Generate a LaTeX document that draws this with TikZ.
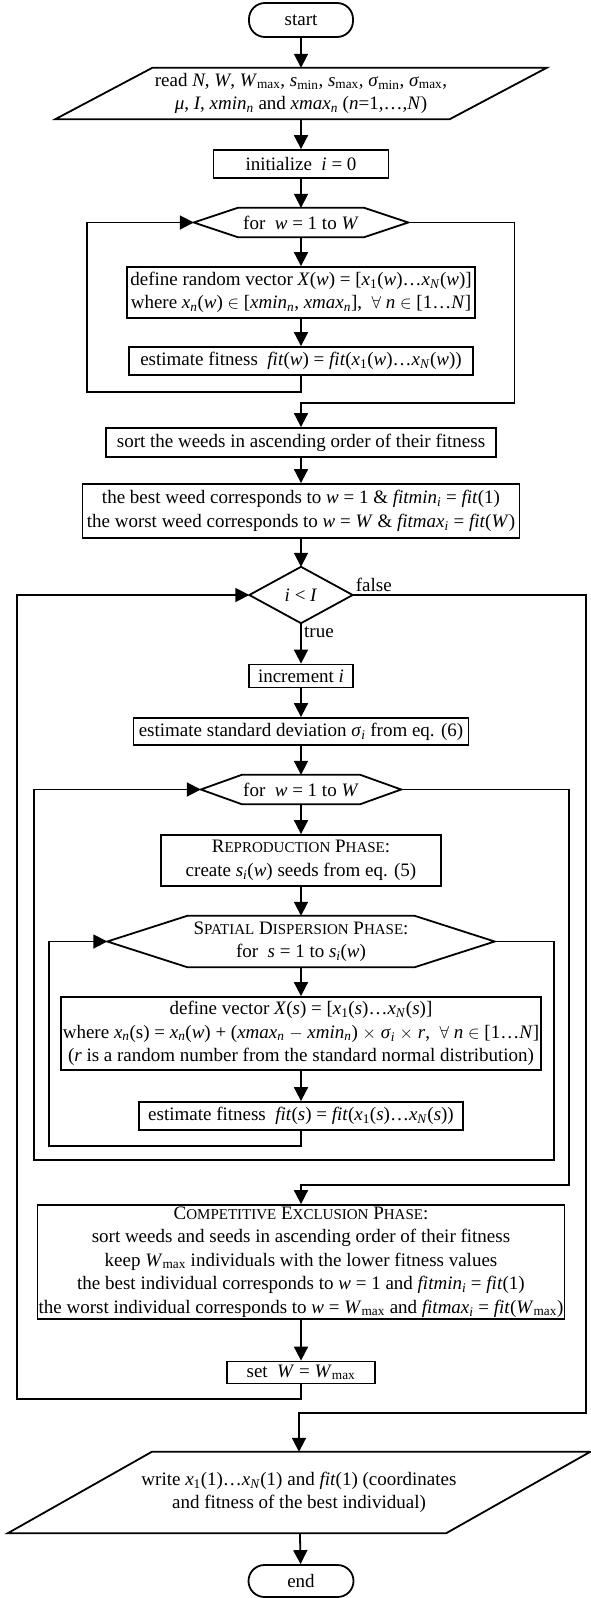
\documentclass[tikz,border=0pt]{standalone}
\usepackage{fontspec}
\setmainfont{Liberation Serif}
\usetikzlibrary{calc,arrows.meta}
\newcommand\vi[1]{\textit{#1}}
\newcommand\sbs[1]{\textsubscript{#1}}
\newcommand\fsc[2]{#1{\fontsize{15}{18}\selectfont #2}}
\def\hexframe(#1)(#2){\draw[line] (#1.west) -- ([xshift=#2]#1.north west) -- ([xshift=-#2]#1.north east) -- (#1.east) -- ([xshift=-#2]#1.south east) -- ([xshift=#2]#1.south west) -- cycle;}
\def\slantframe(#1)(#2){\draw[line] ([xshift=#2]#1.north west) -- (#1.north east) -- ([xshift=-#2]#1.south east) -- (#1.south west) -- cycle;}
\tikzset{
  line/.style={line width=1.8pt, line join=miter},
  arr/.style={line width=1.8pt, -{Triangle[length=14pt,width=14pt]}},
  txt/.style={font=\fontsize{19}{23.5}\selectfont, align=center, inner sep=1pt},
  box/.style={txt, draw, line width=1.8pt},
  term/.style={box, rounded corners=16pt},
  shapetxt/.style={txt}
}
\begin{document}
\begin{tikzpicture}[x=1pt,y=-1pt]
			%%%%% START %%%%%
			\useasboundingbox (0,0) rectangle (591,1598);
			
			\node[term, minimum width=104, minimum height=34] (start) at (301,20) {start};
			\node[shapetxt, minimum width=491, minimum height=51] (read) at (301,93.5) {read \vi{N}, \vi{W}, \vi{W}\sbs{max}, \vi{s}\sbs{min}, \vi{s}\sbs{max}, \vi{σ}\sbs{min}, \vi{σ}\sbs{max},\\ \vi{μ}, \vi{I}, \vi{xmin}\sbs{\vi{n}} and \vi{xmax}\sbs{\vi{n}} (\vi{n}=1,…,\vi{N})};
			\slantframe(read)(97)
			\node[box, minimum width=175, minimum height=28] (init) at (301,164) {initialize\ \ \vi{i} = 0};
			
			% first loop over the weeds
			\node[shapetxt, minimum width=214, minimum height=29] (for1) at (301,222.5) {for\ \ \vi{w} = 1 to \vi{W}};
			\hexframe(for1)(44)
			\node[box, minimum width=348, minimum height=51] (defrand) at (301,292.5) {define random vector \vi{X}(\vi{w}) = [\vi{x}\sbs{1}(\vi{w})…\vi{x}\sbs{\vi{N}}(\vi{w})]\\ where \vi{x}\sbs{\vi{n}}(\vi{w}) $\in$ [\vi{xmin}\sbs{\vi{n}}, \vi{xmax}\sbs{\vi{n}}],\ \ $\forall$ \vi{n} $\in$ [1…\vi{N}]};
			\node[box, minimum width=344, minimum height=28] (fit1) at (301,361) {estimate fitness\ \ \vi{fit}(\vi{w}) = \vi{fit}(\vi{x}\sbs{1}(\vi{w})…\vi{x}\sbs{\vi{N}}(\vi{w}))};
			
			\node[box, minimum width=390, minimum height=29] (sort) at (301,442.5) {sort the weeds in ascending order of their fitness};
			\node[box, minimum width=437, minimum height=54] (best) at (301,511) {the best weed corresponds to \vi{w} = 1 \& \vi{fitmin}\sbs{\vi{i}} = \vi{fit}(1)\\ the worst weed corresponds to \vi{w} = \vi{W} \& \vi{fitmax}\sbs{\vi{i}} = \vi{fit}(\vi{W})};
			
			% main iteration
			\node[shapetxt, minimum width=103, minimum height=56] (cond) at (301,595) {\vi{i} < \vi{I}};
			\draw[line] (cond.west) -- (cond.north) -- (cond.east) -- (cond.south) -- cycle;
			\node[box, minimum width=104, minimum height=23] (incr) at (301,676) {increment \vi{i}};
			\node[box, minimum width=335, minimum height=27] (std) at (301,731.5) {estimate standard deviation \vi{σ}\sbs{\vi{i}} from eq. (6)};
			
			\node[shapetxt, minimum width=200, minimum height=29] (for2) at (301,789.5) {for\ \ \vi{w} = 1 to \vi{W}};
			\hexframe(for2)(41)
			\node[box, minimum width=280, minimum height=51] (repro) at (301,860.5) {\fsc{R}{EPRODUCTION} \fsc{P}{HASE}:\\ create \vi{s}\sbs{\vi{i}}(\vi{w}) seeds from eq. (5)};
			
			\node[shapetxt, minimum width=387, minimum height=51] (spatial) at (301,941.5) {\fsc{S}{PATIAL} \fsc{D}{ISPERSION} \fsc{P}{HASE}:\\ for\ \ \vi{s} = 1 to \vi{s}\sbs{\vi{i}}(\vi{w})};
			\hexframe(spatial)(80)
			\node[box, minimum width=480, minimum height=73] (defvec) at (301,1033.5) {define vector \vi{X}(\vi{s}) = [\vi{x}\sbs{1}(\vi{s})…\vi{x}\sbs{\vi{N}}(\vi{s})]\\ where \vi{x}\sbs{\vi{n}}(s) = \vi{x}\sbs{\vi{n}}(\vi{w}) + (\vi{xmax}\sbs{\vi{n}} $-$ \vi{xmin}\sbs{\vi{n}}) $\times$ \vi{σ}\sbs{\vi{i}} $\times$ \vi{r},\ \ $\forall$ \vi{n} $\in$ [1…\vi{N}]\\ (\vi{r} is a random number from the standard normal distribution)};
			\node[box, minimum width=324, minimum height=28] (fit2) at (301,1116) {estimate fitness\ \ \vi{fit}(\vi{s}) = \vi{fit}(\vi{x}\sbs{1}(\vi{s})…\vi{x}\sbs{\vi{N}}(\vi{s}))};
			
			\node[box, minimum width=527, minimum height=114] (compet) at (301,1262) {\fsc{C}{OMPETITIVE} \fsc{E}{XCLUSION} \fsc{P}{HASE}:\\ sort weeds and seeds in ascending order of their fitness\\ keep \vi{W}\sbs{max} individuals with the lower fitness values\\ the best individual corresponds to \vi{w} = 1 and \vi{fitmin}\sbs{\vi{i}} = \vi{fit}(1)\\ the worst individual corresponds to \vi{w} = \vi{W}\sbs{max} and \vi{fitmax}\sbs{\vi{i}} = \vi{fit}(\vi{W}\sbs{max})};
			\node[box, minimum width=148, minimum height=22] (setW) at (301,1372.5) {set\ \ \vi{W} = \vi{W}\sbs{max}};
			
			\node[shapetxt, minimum width=582, minimum height=81] (out) at (299,1492.5) {write \vi{x}\sbs{1}(1)…\vi{x}\sbs{\vi{N}}(1) and \vi{fit}(1) (coordinates\\ and fitness of the best individual)};
			\slantframe(out)(144)
			\node[term, minimum width=105, minimum height=32] (end) at (301,1581) {end};
			
			% loop corners
			\coordinate (l1b) at (87,392);
			\coordinate (l1r) at (514.5,403);
			\coordinate (olb) at (17,1399);
			\coordinate (orb) at (586,1413);
			\coordinate (l2b) at (34,1160);
			\coordinate (l2r) at (569,1185);
			\coordinate (l3b) at (49,1146);
			\coordinate (l3r) at (554,1160);
			
			% straight connectors
			\draw[arr] (start) -- (read);
			\draw[arr] (read) -- (init);
			\draw[arr] (init) -- (for1);
			\draw[arr] (for1) -- (defrand);
			\draw[arr] (defrand) -- (fit1);
			\draw[arr] (sort) -- (best);
			\draw[arr] (best) -- (cond);
			\draw[arr] (cond) -- (incr);
			\draw[arr] (incr) -- (std);
			\draw[arr] (std) -- (for2);
			\draw[arr] (for2) -- (repro);
			\draw[arr] (repro) -- (spatial);
			\draw[arr] (spatial) -- (defvec);
			\draw[arr] (defvec) -- (fit2);
			\draw[arr] (compet) -- (setW);
			\draw[arr] (out) -- (end);
			
			% loops
			\draw[arr] (fit1.south) |- (l1b) |- (for1.west);
			\draw[arr] (for1.east) -| (l1r) -| (sort.north);
			\draw[arr] (fit2.south) |- (l3b) |- (spatial.west);
			\draw[arr] (spatial.east) -| (l3r) -- (l2b) |- (for2.west);
			\draw[arr] (for2.east) -| (l2r) -| (compet.north);
			\draw[arr] (setW.south) |- (olb) |- (cond.west);
			\draw[arr] (cond.east) -| (orb) -| (out.north);
			
			\node[txt, anchor=south west, inner sep=3pt] (lfalse) at (cond.east) {false};
			\node[txt, anchor=north west, inner sep=3pt] (ltrue) at (cond.south) {true};
			%%%%% END %%%%%
\end{tikzpicture}
\end{document}
